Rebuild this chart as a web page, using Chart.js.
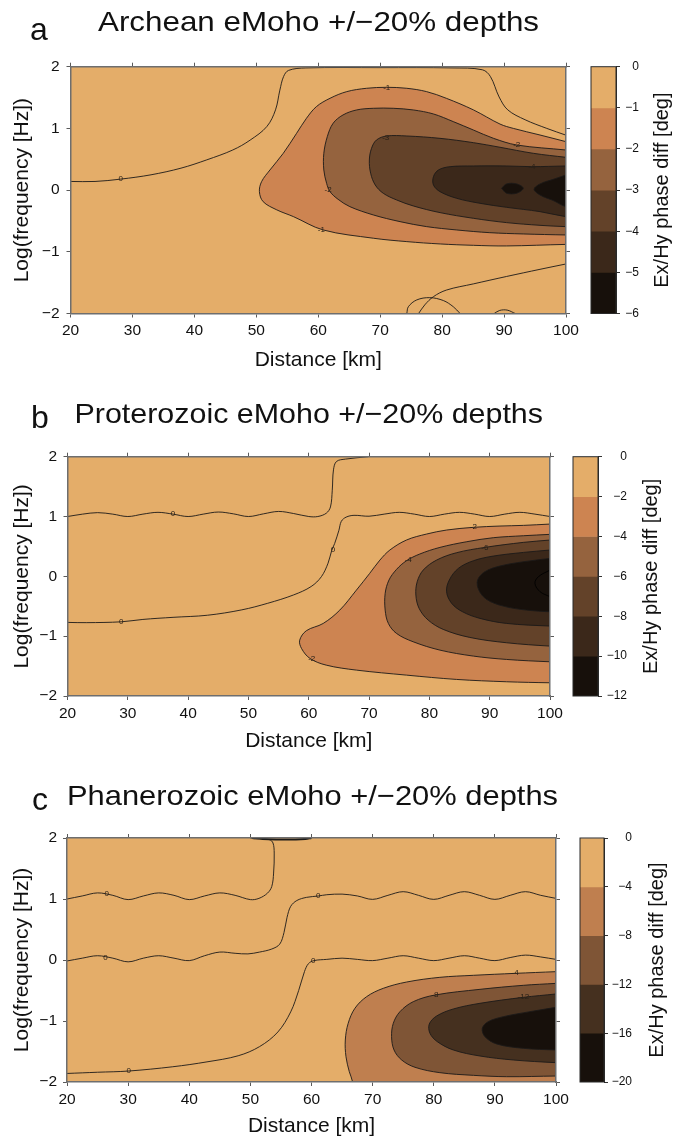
<!DOCTYPE html>
<html><head><meta charset="utf-8">
<script src="https://cdn.jsdelivr.net/npm/chart.js@4.4.1/dist/chart.umd.min.js"></script>
<style>
html,body{margin:0;padding:0;background:#fff;}
body{width:675px;height:1142px;position:relative;overflow:hidden;}
canvas{position:absolute;}
</style>
</head><body>
<canvas id="mainA"></canvas><canvas id="cbA"></canvas>
<canvas id="mainB"></canvas><canvas id="cbB"></canvas>
<canvas id="mainC"></canvas><canvas id="cbC"></canvas>
<script>
const FAM = "'Liberation Sans', Arial, Helvetica, sans-serif";
const MINUS = '\u2212';
const fmt = v => v < 0 ? MINUS + Math.abs(v) : String(v);

// ---------------- axes / text ----------------
const xTicks = [20, 30, 40, 50, 60, 70, 80, 90, 100];
const yTicks = [-2, -1, 0, 1, 2];
const panelLetters = ['a', 'b', 'c'];
const panelTitles = ['Archean eMoho +/\u221220% depths', 'Proterozoic eMoho +/\u221220% depths', 'Phanerozoic eMoho +/\u221220% depths'];
const xTitle = 'Distance [km]';
const yTitle = 'Log(frequency [Hz])';
const cbTitle = 'Ex/Hy phase diff [deg]';

// ---------------- colour levels ----------------
const levelsA = [0, -1, -2, -3, -4, -5, -6];
const levelsB = [0, -2, -4, -6, -8, -10, -12];
const levelsC = [0, -4, -8, -12, -16, -20];
const colorsA = ['#E4AD69', '#CD8451', '#95633E', '#634229', '#3B281A', '#17100B'];
const colorsB = ['#E4AD69', '#CD8451', '#95633E', '#634229', '#3B281A', '#17100B'];
const colorsC = ['#E4AD69', '#BF7F4F', '#7F5536', '#45301F', '#17100B'];

// ---------------- panel a contours [distance km, log f] ----------------
const a_m1 = [[100,0.785],[95.8,0.893],[91.5,1.0],[89.35,1.07],[85.05,1.30],[80.7,1.487],[77.5,1.596],[74.3,1.65],[71.05,1.666],[67.8,1.65],[64.6,1.596],[61.9,1.488],[59.7,1.353],[58.1,1.164],[56.5,0.92],[54.35,0.596],[52.2,0.326],[50.85,0.137],[50.5,-0.025],[51.1,-0.187],[53.3,-0.32],[56.0,-0.43],[60.8,-0.646],[68.9,-0.78],[74.3,-0.835],[79.7,-0.873],[85.05,-0.895],[90.4,-0.905],[100,-0.88]];
const a_m2 = [[100,0.65],[92.05,0.731],[88.3,0.839],[85.05,0.974],[81.8,1.11],[78.6,1.234],[75.35,1.299],[72.1,1.326],[68.9,1.326],[66.2,1.299],[64.0,1.218],[62.4,1.083],[61.46,0.866],[60.9,0.596],[60.9,0.326],[61.35,0.11],[61.9,-0.025],[63.2,-0.149],[65.1,-0.268],[68.9,-0.403],[73.2,-0.511],[77.5,-0.592],[82.35,-0.646],[87.7,-0.69],[93.1,-0.711],[100,-0.727]];
const a_m3 = [[100,0.531],[94.74,0.596],[89.35,0.694],[85.05,0.769],[79.66,0.839],[74.3,0.877],[71.05,0.877],[69.4,0.812],[68.6,0.677],[68.25,0.488],[68.46,0.272],[69.2,0.083],[70.5,-0.052],[72.66,-0.16],[75.35,-0.257],[79.66,-0.365],[85.05,-0.457],[90.4,-0.527],[95.8,-0.571],[100,-0.592]];
const a_m4 = [[100,0.391],[94.45,0.38],[90.4,0.391],[85.05,0.391],[81.3,0.38],[79.4,0.326],[78.6,0.218],[78.6,0.083],[79.66,-0.025],[82.35,-0.133],[86.1,-0.214],[90.4,-0.279],[95.8,-0.349],[100,-0.43]];
const a_m5blob = [[89.6,0.03],[90.4,0.1],[92.05,0.1],[93.1,0.03],[92.05,-0.05],[90.4,-0.05],[89.6,0.03]];
const a_m5edge = [[100,0.245],[97.97,0.175],[95.8,0.099],[94.85,0.013],[95.8,-0.079],[97.97,-0.17],[100,-0.268]];
const a_zeroTop = [[20,0.14],[23.96,0.14],[28.1,0.178],[33.0,0.248],[37.85,0.356],[42.0,0.49],[46.2,0.65],[49.0,0.81],[51.7,1.03],[53.1,1.30],[53.8,1.62],[54.4,1.84],[55.2,1.94],[58.0,1.98],[70,1.985],[81.6,1.98],[86.5,1.95],[87.8,1.84],[89.2,1.51],[90.6,1.30],[93.4,1.14],[96.9,1.0],[100,0.89]];
const a_zeroLow = [[100,-1.197],[95.8,-1.284],[90.4,-1.40],[85.05,-1.52],[80.7,-1.62],[78.6,-1.727],[77.2,-1.86],[76.2,-2.0]];
const a_zeroLoop = [[74.3,-2.0],[74.55,-1.89],[75.9,-1.78],[78.0,-1.743],[80.2,-1.79],[81.8,-1.89],[82.9,-2.0]];
const a_zeroBump = [[88.4,-2.0],[89.3,-1.95],[90.5,-1.945],[91.8,-2.0]];
const labelsA = [['0',28.1,0.178],['-1',71.05,1.666],['-1',60.5,-0.646],['-2',92.05,0.731],['-2',61.6,0.0],['-3',70.9,0.85],['-4',94.5,0.37]];

// ---------------- panel b contours ----------------
const b_m2 = [[100,0.874],[95.6,0.852],[91.7,0.841],[87.3,0.819],[82.85,0.774],[79.53,0.707],[76.2,0.607],[73.45,0.44],[71.8,0.272],[70.1,0.049],[67.9,-0.23],[65.15,-0.564],[62.4,-0.787],[59.6,-0.909],[58.5,-1.066],[58.8,-1.205],[60.2,-1.372],[62.9,-1.484],[67.9,-1.567],[76.2,-1.651],[84.5,-1.723],[92.8,-1.762],[100,-1.779]];
const b_m4 = [[100,0.702],[95.6,0.679],[90.6,0.646],[86.2,0.579],[81.75,0.484],[78.4,0.373],[76.2,0.261],[74.55,0.116],[73.3,-0.062],[72.67,-0.285],[72.67,-0.564],[73.2,-0.787],[74.55,-0.954],[77.3,-1.093],[81.75,-1.233],[87.3,-1.333],[92.8,-1.389],[100,-1.428]];
const b_m6 = [[100,0.607],[95.6,0.568],[89.2,0.484],[84.5,0.395],[81.2,0.272],[78.98,0.105],[77.98,-0.09],[77.76,-0.313],[78.3,-0.536],[79.8,-0.731],[82.3,-0.887],[86.7,-1.021],[92.8,-1.11],[100,-1.166]];
const b_m8 = [[100,0.44],[95.6,0.4],[90.6,0.339],[87.3,0.261],[84.8,0.133],[83.3,-0.062],[82.85,-0.257],[83.7,-0.452],[85.5,-0.592],[88.4,-0.703],[92.8,-0.787],[100,-0.831]];
const b_m10 = [[100,0.3],[95.6,0.244],[91.7,0.172],[89.2,0.077],[88.0,-0.062],[88.2,-0.229],[89.5,-0.385],[92.25,-0.497],[96.1,-0.564],[100,-0.592]];
const b_m12 = [[100,0.105],[98.07,-0.006],[97.5,-0.118],[98.35,-0.257],[100,-0.34]];
const b_zeroUp = [[20,1.0],[22.5,1.04],[25,1.065],[27.5,1.04],[30,1.0],[32.5,1.04],[35,1.07],[37.5,1.04],[40,1.0],[42.5,1.04],[45,1.075],[47.5,1.045],[50,1.0],[52.5,1.045],[55,1.085],[57.5,1.05],[60,1.0],[61.5,1.0],[62.9,1.055],[63.6,1.16],[63.9,1.44],[64.1,1.78],[64.6,1.92],[66.1,1.96],[69.9,2.0]];
const b_zeroLow = [[100,1.0],[97.5,1.04],[95,1.07],[92.5,1.04],[90,1.0],[87.5,1.04],[85,1.07],[82.5,1.04],[80,1.0],[77.5,1.04],[75,1.07],[72.5,1.04],[70,1.005],[67.5,1.02],[66.2,0.99],[65.4,0.92],[65.0,0.77],[64.3,0.55],[63.8,0.43],[63.2,0.22],[62.1,-0.005],[60.4,-0.17],[57.5,-0.31],[53.2,-0.45],[48.9,-0.56],[43.2,-0.65],[37.5,-0.685],[32.5,-0.72],[28.9,-0.76],[23.2,-0.774],[20,-0.77]];
const labelsB = [['0',37.5,1.04],['0',64.0,0.44],['0',28.9,-0.76],['-2',87.3,0.82],['-2',60.5,-1.38],['-4',76.5,0.28],['-6',89.2,0.48]];

// ---------------- panel c contours ----------------
const c_m4 = [[100,-0.191],[93.3,-0.219],[86.5,-0.251],[81.0,-0.284],[75.56,-0.361],[71.75,-0.464],[69.02,-0.601],[67.1,-0.792],[66.0,-1.038],[65.53,-1.312],[65.64,-1.585],[66.18,-1.83],[66.73,-2.0]];
const c_m8 = [[100,-0.383],[94.65,-0.415],[87.56,-0.481],[80.2,-0.574],[76.65,-0.683],[74.47,-0.847],[73.38,-1.038],[73.1,-1.257],[73.5,-1.475],[74.75,-1.639],[76.93,-1.759],[81.0,-1.847],[86.5,-1.891],[91.9,-1.913],[100,-1.902]];
const c_m12 = [[100,-0.557],[94.65,-0.612],[87.56,-0.71],[83.2,-0.803],[80.47,-0.918],[79.27,-1.049],[79.38,-1.202],[80.58,-1.339],[83.2,-1.475],[87.56,-1.574],[93.0,-1.639],[100,-1.683]];
const c_m16 = [[100,-0.776],[95.74,-0.847],[91.4,-0.929],[88.9,-1.011],[87.94,-1.12],[88.38,-1.257],[90.3,-1.377],[94.65,-1.448],[100,-1.475]];
const c_zeroA = [[20,1.0],[22.5,1.05],[25,1.1],[27.5,1.06],[30,0.99],[32.5,1.05],[35,1.1],[37.5,1.06],[40,0.99],[42.5,1.05],[45,1.1],[47.5,1.06],[50,0.99],[51.4,1.01],[52.8,1.096],[53.5,1.205],[53.8,1.425],[53.9,1.753],[53.7,1.918],[53.1,1.973],[50.65,1.99],[50,2.0]];
const c_zeroB = [[20,-0.016],[22.5,0.03],[25,0.07],[27.5,0.03],[30,-0.03],[32.5,0.03],[35,0.07],[37.5,0.03],[40,-0.01],[42.5,0.07],[45,0.13],[47.5,0.11],[49.6,0.10],[51.5,0.13],[53.5,0.18],[54.8,0.26],[55.5,0.45],[56.0,0.7],[56.6,0.88],[57.6,0.975],[59.2,1.027],[61.1,1.049],[62.5,1.07],[65,1.08],[67.5,1.05],[70,0.994],[72.5,1.06],[75,1.12],[77.5,1.06],[80,0.994],[82.5,1.06],[85,1.12],[87.5,1.06],[90,0.994],[92.5,1.06],[95,1.12],[97.5,1.06],[100,1.01]];
const c_zeroC = [[20,-1.86],[25,-1.84],[30.1,-1.82],[37.3,-1.75],[42.9,-1.67],[48,-1.57],[51.5,-1.42],[54.5,-1.18],[56.6,-0.85],[57.9,-0.5],[58.85,-0.19],[59.5,-0.06],[60.4,-0.01],[62.5,0.01],[65,0.03],[67.5,0.01],[70,-0.01],[72.5,0.03],[75,0.07],[77.5,0.03],[80,-0.01],[82.5,0.03],[85,0.07],[87.5,0.03],[90,-0.01],[92.5,0.04],[95,0.08],[97.5,0.05],[100,0.01]];
const c_top = [[50.3,2.0],[52,1.985],[56,1.975],[59,1.985],[60,2.0]];
const labelsC = [['0',26.5,1.09],['0',26.3,0.03],['0',61.1,1.05],['0',30.1,-1.82],['0',60.3,-0.01],['-4',93.3,-0.21],['-8',80.2,-0.57],['-12',94.65,-0.61]];

// ---------------- helpers ----------------
const OUT = 102;
const closeRight = p => p.concat([[OUT, p[p.length - 1][1]], [OUT, p[0][1]]]);
const closeBottomRight = p => p.concat([[p[p.length - 1][0] + 0.2, -2.25], [OUT, -2.25], [OUT, p[0][1]]]);
const toXY = p => p.map(q => ({x: q[0], y: q[1]}));

const layouts = [
  {id: 'A', top: 0, h: 380, area: {l: 70.5, r: 566, t: 66.7, b: 313.5}, yPad: 7, xtPad: 9.5,
   cb: {left: 580, w: 95, l: 11, r: 36, labR: 59, tx: 82},
   title: {lx: 30, lb: 40, tx: 98, tb: 31, tw: 441}},
  {id: 'B', top: 380, h: 380, area: {l: 67.5, r: 550, t: 76.7, b: 316}, yPad: 6.5, xtPad: 8.5,
   cb: {left: 565, w: 110, l: 8, r: 33, labR: 62, tx: 86},
   title: {lx: 31, lb: 48, tx: 74.5, tb: 43, tw: 468.5}},
  {id: 'C', top: 760, h: 382, area: {l: 67, r: 556, t: 78, b: 322}, yPad: 6, xtPad: 4.8,
   cb: {left: 570, w: 105, l: 10, r: 34, labR: 62, tx: 87},
   title: {lx: 32, lb: 50, tx: 67, tb: 45, tw: 491}}
];

const LINE = '#1c1a18';

function buildDatasets(fills, lines) {
  const ds = [];
  let order = 1000;
  fills.forEach(f => ds.push({data: toXY(f[0]), fill: 'shape', backgroundColor: f[1], borderColor: LINE,
    borderWidth: 0.9, showLine: true, pointRadius: 0, tension: 0.35, order: order--}));
  lines.forEach(l => ds.push({data: toXY(l[0]), fill: false, borderColor: l[1] || LINE,
    borderWidth: l[2] || 0.9, showLine: true, pointRadius: 0, tension: 0.35, order: order--}));
  return ds;
}

function makeMain(idx, fills, lines, labels, bg) {
  const L = layouts[idx];
  const W = 590;
  const cv = document.getElementById('main' + L.id);
  cv.width = W; cv.height = L.h; cv.style.left = '0px'; cv.style.top = L.top + 'px';
  const tickFont = {size: 15.5, family: FAM};
  const gridOpt = {drawOnChartArea: false, drawTicks: true, tickLength: 4, color: '#5a5a5a'};
  const borderOpt = {display: true, color: '#6e6e6e', width: 1.5, z: 1};
  const xt = s => { s.ticks = xTicks.map(v => ({value: v})); };
  const yt = s => { s.ticks = yTicks.map(v => ({value: v})); };
  const plugin = {
    id: 'deco' + L.id,
    beforeDatasetsDraw(chart) {
      const a = chart.chartArea, c = chart.ctx;
      c.save(); c.fillStyle = bg; c.fillRect(a.left, a.top, a.right - a.left, a.bottom - a.top); c.restore();
    },
    afterDatasetsDraw(chart) {
      const c = chart.ctx, xs = chart.scales.x, ys = chart.scales.y;
      c.save();
      c.font = '8px ' + FAM; c.fillStyle = '#2a2118'; c.textAlign = 'center'; c.textBaseline = 'middle';
      labels.forEach(l => c.fillText(l[0], xs.getPixelForValue(l[1]), ys.getPixelForValue(l[2])));
      c.restore();
    },
    afterDraw(chart) {
      const c = chart.ctx, T = L.title;
      c.save();
      c.fillStyle = '#111'; c.textAlign = 'left'; c.textBaseline = 'alphabetic';
      c.font = '32px ' + FAM;
      c.fillText(panelLetters[idx], T.lx, T.lb);
      c.font = '28px ' + FAM;
      const w = c.measureText(panelTitles[idx]).width;
      c.translate(T.tx, T.tb); c.scale(T.tw / w, 1);
      c.fillText(panelTitles[idx], 0, 0);
      c.restore();
    }
  };
  return new Chart(cv, {
    type: 'scatter',
    data: {datasets: buildDatasets(fills, lines)},
    options: {
      responsive: false, animation: false, devicePixelRatio: 1, events: [],
      layout: {padding: {left: 0, right: W - L.area.r - 4, top: L.area.t - 4, bottom: 0}},
      elements: {line: {capBezierPoints: false}},
      plugins: {legend: {display: false}, tooltip: {enabled: false}},
      scales: {
        x: {type: 'linear', position: 'bottom', min: 20, max: 100, afterBuildTicks: xt,
            ticks: {font: tickFont, color: '#111', padding: 4, maxRotation: 0, autoSkip: false, callback: fmt},
            grid: gridOpt, border: borderOpt,
            title: {display: true, text: xTitle, color: '#111', font: {size: 21, family: FAM, lineHeight: 1}, padding: {top: 0, bottom: L.xtPad}},
            afterFit: s => { s.height = L.h - L.area.b; }},
        x2: {type: 'linear', position: 'top', min: 20, max: 100, afterBuildTicks: xt,
            ticks: {display: false}, grid: gridOpt, border: borderOpt,
            afterFit: s => { s.height = 4; }},
        y: {type: 'linear', position: 'left', min: -2, max: 2, afterBuildTicks: yt,
            ticks: {font: tickFont, color: '#111', padding: L.yPad, callback: fmt},
            grid: gridOpt, border: borderOpt,
            title: {display: true, text: yTitle, color: '#111', font: {size: 21, family: FAM, lineHeight: 1}, padding: {top: 12, bottom: 0}},
            afterFit: s => { s.width = L.area.l; }},
        y2: {type: 'linear', position: 'right', min: -2, max: 2, afterBuildTicks: yt,
            ticks: {display: false}, grid: gridOpt, border: borderOpt,
            afterFit: s => { s.width = 4; }}
      }
    },
    plugins: [plugin]
  });
}

function makeCB(idx, levels, colors) {
  const L = layouts[idx];
  const cv = document.getElementById('cb' + L.id);
  cv.width = L.cb.w; cv.height = L.h; cv.style.left = L.cb.left + 'px'; cv.style.top = L.top + 'px';
  const axisW = L.cb.labR - L.cb.r;
  const plugin = {
    id: 'cbdeco' + L.id,
    afterDatasetsDraw(chart) {
      const a = chart.chartArea, c = chart.ctx;
      c.save(); c.strokeStyle = '#2a2a2a'; c.lineWidth = 1;
      c.strokeRect(a.left, a.top, a.right - a.left, a.bottom - a.top); c.restore();
    },
    afterDraw(chart) {
      const a = chart.chartArea, c = chart.ctx;
      c.save(); c.fillStyle = '#111'; c.font = '20px ' + FAM; c.textAlign = 'center'; c.textBaseline = 'middle';
      c.translate(L.cb.tx, (a.top + a.bottom) / 2); c.rotate(-Math.PI / 2);
      c.fillText(cbTitle, 0, 0); c.restore();
    }
  };
  return new Chart(cv, {
    type: 'bar',
    data: {labels: ['band'], datasets: colors.map((col, i) => ({
      data: [[levels[i + 1], levels[i]]], backgroundColor: col, borderWidth: 0,
      barPercentage: 1, categoryPercentage: 1, grouped: false}))},
    options: {
      responsive: false, animation: false, devicePixelRatio: 1, events: [],
      layout: {padding: {left: L.cb.l, right: L.cb.w - L.cb.labR, top: L.area.t, bottom: L.h - L.area.b}},
      plugins: {legend: {display: false}, tooltip: {enabled: false}},
      scales: {
        x: {display: false},
        y: {position: 'right', min: levels[levels.length - 1], max: 0,
            afterBuildTicks: s => { s.ticks = levels.map(v => ({value: v})); },
            ticks: {font: {size: 12, family: FAM}, color: '#111', padding: 4, crossAlign: 'far', callback: fmt},
            grid: {drawOnChartArea: false, drawTicks: true, tickLength: 4, color: '#333'},
            border: {display: true, color: '#2a2a2a', width: 1},
            afterFit: s => { s.width = axisW; }}
      }
    },
    plugins: [plugin]
  });
}

// ---------------- build ----------------
makeMain(0,
  [[closeRight(a_m1), colorsA[1]], [closeRight(a_m2), colorsA[2]], [closeRight(a_m3), colorsA[3]],
   [closeRight(a_m4), colorsA[4]], [a_m5blob, colorsA[5]], [closeRight(a_m5edge), colorsA[5]]],
  [[a_zeroTop], [a_zeroLow], [a_zeroLoop], [a_zeroBump]],
  labelsA, colorsA[0]);
makeCB(0, levelsA, colorsA);

makeMain(1,
  [[closeRight(b_m2), colorsB[1]], [closeRight(b_m4), colorsB[2]], [closeRight(b_m6), colorsB[3]],
   [closeRight(b_m8), colorsB[4]], [closeRight(b_m10), colorsB[5]]],
  [[b_zeroUp], [b_zeroLow], [b_m12, '#000']],
  labelsB, colorsB[0]);
makeCB(1, levelsB, colorsB);

makeMain(2,
  [[closeBottomRight(c_m4), colorsC[1]], [closeRight(c_m8), colorsC[2]], [closeRight(c_m12), colorsC[3]],
   [closeRight(c_m16), colorsC[4]]],
  [[c_zeroA], [c_zeroB], [c_zeroC], [c_top, LINE, 2]],
  labelsC, colorsC[0]);
makeCB(2, levelsC, colorsC);
</script>
</body></html>
